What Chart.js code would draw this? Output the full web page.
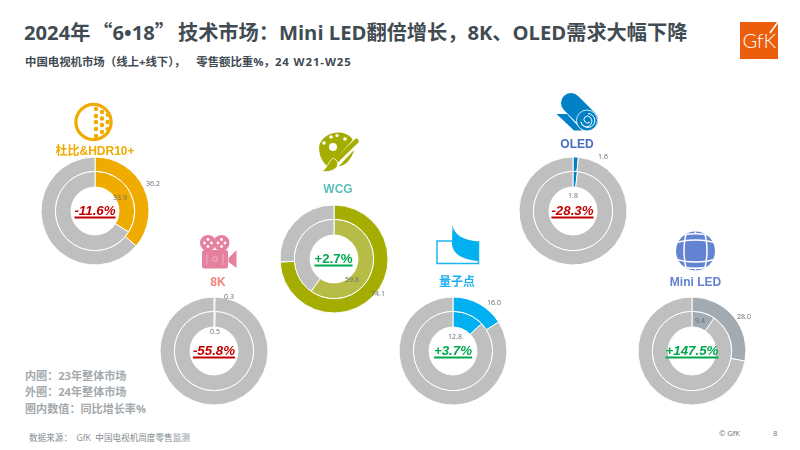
<!DOCTYPE html>
<html>
<head>
<meta charset="utf-8">
<script src="https://cdn.jsdelivr.net/npm/chart.js@4/dist/chart.umd.js"></script>
<style>
  html, body { margin: 0; padding: 0; background: #fff; }
  #page { position: relative; width: 800px; height: 450px; overflow: hidden; font-family: "Open Sans", "Noto Sans CJK SC", sans-serif; }
  #page div { position: absolute; white-space: pre; }
  #page canvas { position: absolute; }
  #icons { position: absolute; left: 0; top: 0; }
  .cjk { font-family: "Noto Sans CJK SC", sans-serif; }
  .title { left: 24px; top: 17px; font-size: 20.2px; font-weight: 700; color: #414b52; line-height: 30px; }
  .sub { left: 25px; top: 53px; font-size: 11.4px; font-weight: 700; color: #414b52; line-height: 18px; }
  .note { left: 25px; font-size: 11.1px; font-weight: 700; color: #a3a9ad; line-height: 16px; }
  .src { left: 29px; top: 431px; font-size: 8.6px; color: #868c91; line-height: 14px; }
  .foot { top: 427px; font-size: 7.6px; color: #6b6f72; line-height: 12px; }
  .name { font-family: "Liberation Sans", "Noto Sans CJK SC", sans-serif; font-size: 12px; font-weight: 700; transform: translate(-50%, -50%); line-height: 14px; }
  .growth { font-family: "Liberation Sans", sans-serif; font-size: 13.3px; font-weight: 700; font-style: italic; transform: translate(-50%, -50%); line-height: 15px; text-decoration: underline; text-decoration-thickness: 1.5px; text-underline-offset: 2px; }
</style>
</head>
<body>
<div id="page">
  <div class="title">2024年<span class="cjk" style="margin-left:2px">“</span>6•18<span class="cjk" style="margin-right:3px">”</span>技术市场：Mini LED翻倍增长，8K、OLED需求大幅下降</div>
  <div class="sub">中国电视机市场（线上+线下）<span style="letter-spacing:8px">，</span> 零售额比重%，<span style="letter-spacing:.9px">24 W21-W25</span></div>
  <div class="note" style="top:368px">内圈：23年整体市场</div>
  <div class="note" style="top:384px">外圈：24年整体市场</div>
  <div class="note" style="top:401px">圈内数值：同比增长率%</div>
  <div class="src">数据来源：  GfK  中国电视机周度零售监测</div>
  <div class="foot" style="left:719px">© GfK</div>
  <div class="foot" style="left:773px">8</div>

  <svg id="icons" width="800" height="450" viewBox="0 0 800 450">
    <!-- GfK logo -->
    <rect x="740" y="22" width="38" height="37" fill="#ec5d0c"/>
    <path d="M778 22 L770 33" stroke="#fff" stroke-width="1.6"/>
    <text x="742.5" y="48" font-family="Lato, sans-serif" font-weight="300" font-size="20" fill="#fff">GfK</text>

    <!-- Dolby -->
    <g fill="#f0ab00">
      <circle cx="93.5" cy="122" r="17.6" fill="none" stroke="#f0ab00" stroke-width="3.2"/>
      <circle cx="96" cy="109" r="2.2"/><circle cx="96" cy="116" r="2.3"/><circle cx="96" cy="122" r="2.3"/><circle cx="96" cy="129" r="2.3"/><circle cx="96" cy="136" r="2.2"/>
      <circle cx="102" cy="112" r="2.2"/><circle cx="102" cy="118.5" r="2.3"/><circle cx="102" cy="125" r="2.3"/><circle cx="102" cy="132" r="2.2"/>
      <circle cx="107.5" cy="115" r="2"/><circle cx="107.5" cy="122" r="2.2"/><circle cx="107.5" cy="129" r="2"/>
    </g>

    <!-- WCG palette -->
    <path d="M319 147 C321 136 333 131 343 133 C351 135 354 140 353 144 L337 159 C335 163 333 165 332 171 C326 165 319 160 319 147 Z" fill="#a5ad00"/>
    <path d="M341 166 C347 164 352 158 354 150 L339 166 Z" fill="#a5ad00"/>
    <circle cx="333" cy="147" r="4" fill="#fff"/><circle cx="331" cy="137" r="1.8" fill="#fff"/><circle cx="337" cy="135.5" r="1.6" fill="#fff"/><circle cx="345" cy="139" r="1.8" fill="#fff"/><circle cx="324" cy="143" r="1.8" fill="#fff"/>
    <path d="M356.5 141 L340 159" stroke="#fff" stroke-width="7"/>
    <path d="M356.5 141 L337 160" stroke="#a5ad00" stroke-width="4.6" stroke-linecap="round"/>
    <path d="M333 158 C338 160 339 165 336 168 C331 172 326 172 322 171 C327 169 328 162 333 158 Z" fill="#a5ad00" stroke="#fff" stroke-width="0.8"/>

    <!-- 8K camera -->
    <g fill="#e5819e">
      <circle cx="208" cy="243" r="8"/><circle cx="221.5" cy="243" r="8"/>
      <rect x="202" y="250" width="26" height="18.5" rx="2.5"/>
      <path d="M228.5 258 L236.5 250 L236.5 268 L228.5 262 Z"/>
    </g>
    <g fill="#fff">
      <circle cx="208" cy="239.5" r="1.4"/><circle cx="208" cy="246.5" r="1.4"/><circle cx="204.5" cy="243" r="1.4"/><circle cx="211.5" cy="243" r="1.4"/>
      <circle cx="221.5" cy="239.5" r="1.4"/><circle cx="221.5" cy="246.5" r="1.4"/><circle cx="218" cy="243" r="1.4"/><circle cx="225" cy="243" r="1.4"/>
    </g>
    <path d="M207 254 V265 M223 254 V265" stroke="#f3bccb" stroke-width="0.8"/>
    <path d="M213 257 h4 v4 h-4 z" fill="none" stroke="#f3bccb" stroke-width="0.8"/>

    <!-- OLED roll -->
    <path d="M556.5 114 L567 114 L582 130.5 L574 130.5 Z" fill="#0081c6"/>
    <path d="M571 103 L588 120" stroke="#0081c6" stroke-width="20" stroke-linecap="round"/>
    <circle cx="587" cy="120.5" r="10.5" fill="#0081c6" stroke="#fff" stroke-width="0.8"/>
    <path d="M588 113.5 A7 7 0 1 1 581 122 A5.5 5.5 0 1 0 590 117 A3.5 3.5 0 1 0 590 122" fill="none" stroke="#fff" stroke-width="1"/>

    <!-- Quantum dot -->
    <path d="M452 241 H437 V263.5 H478.5 V241" fill="none" stroke="#1eb4f2" stroke-width="1.5"/>
    <path d="M452.5 225 C454 235 463 240 478.5 241.5 V261 C463 260 452 254 452 243 Z" fill="#00b0f0"/>

    <!-- Mini LED globe -->
    <clipPath id="globe"><circle cx="695.5" cy="251" r="19.5"/></clipPath>
    <g clip-path="url(#globe)">
      <rect x="675" y="231" width="41" height="41" fill="#6482d2"/>
      <g fill="none" stroke="#fff" stroke-width="1.5">
        <path d="M687 231 C683 243 683 259 687 271"/>
        <path d="M704 231 C708 243 708 259 704 271"/>
        <path d="M695.5 231 V233"/><path d="M695.5 269 V272"/>
        <path d="M676 243 C685 239 706 239 715 243"/>
        <path d="M676 259 C685 263 706 263 715 259"/>
        <path d="M680 236 C688 233 703 233 711 236"/>
        <path d="M680 266 C688 269 703 269 711 266"/>
        <path d="M679 233 C674 243 674 259 679 269"/>
        <path d="M712 233 C717 243 717 259 712 269"/>
      </g>
    </g>
  </svg>
</div>

<script>
// 技术名称
const names = ['杜比&HDR10+', 'WCG', '8K', 'OLED', '量子点', 'Mini LED']
// 外圈：24年
const share24 = [36.2, 74.1, 0.3, 1.6, 16.0, 28.0]
const other24 = [63.8, 25.9, 99.7, 98.4, 84.0, 72.0]
// 内圈：23年
const share23 = [33.9, 59.8, 0.5, 1.8, 12.8, 9.4]
const other23 = [66.1, 40.2, 99.5, 98.2, 87.2, 90.6]
// 同比增长率
const growth = ['-11.6%', '+2.7%', '-55.8%', '-28.3%', '+3.7%', '+147.5%']

// colours + positions for each donut
const colors24 = ['#f0ab00', '#a5ad00', '#e5819e', '#0081c6', '#00b0f0', '#a3abb2']
const colors23 = ['#f0ab00', '#b6bc45', '#e5819e', '#0081c6', '#00b0f0', '#a3abb2']
const nameColors = ['#f0ab00', '#5bbfba', '#f0847c', '#4a6bc0', '#1eaeef', '#6482d2']
const growthColors = ['#c00000', '#00a94f', '#c00000', '#c00000', '#00a94f', '#00a94f']
const layouts = [
  { cx: 95, cy: 211, nameX: 95, nameY: 151, outer: [58, -27], inner: [25, -13] },
  { cx: 333.5, cy: 258.5, nameX: 338, nameY: 189, outer: [44, 35], inner: [18, 21] },
  { cx: 214, cy: 351, nameX: 218, nameY: 282, outer: [15, -54], inner: [1, -19] },
  { cx: 572.5, cy: 211, nameX: 577, nameY: 144, outer: [30, -54], inner: [0, -15] },
  { cx: 453, cy: 351, nameX: 457, nameY: 282, outer: [41, -48], inner: [2, -14] },
  { cx: 692, cy: 351, nameX: 695.5, nameY: 282, outer: [52, -34], inner: [8, -30] },
]
const SIZE = 150
const GREY = '#bfbfbf'
const page = document.getElementById('page')

// small value labels, text comes from the dataset
const valueLabels = {
  id: 'valueLabels',
  afterDraw(chart, args, opts) {
    const ctx = chart.ctx
    ctx.save()
    ctx.font = '7px "Open Sans", sans-serif'
    ctx.fillStyle = '#666a6d'
    ctx.textAlign = 'center'
    ctx.textBaseline = 'middle'
    chart.data.datasets.forEach((ds, i) => {
      const off = opts.offsets[i]
      ctx.fillText(ds.data[0].toFixed(1), SIZE / 2 + off[0], SIZE / 2 + off[1])
    })
    ctx.restore()
  },
}

names.forEach((name, i) => {
  const l = layouts[i]
  const canvas = document.createElement('canvas')
  canvas.width = SIZE
  canvas.height = SIZE
  canvas.style.left = (l.cx - SIZE / 2) + 'px'
  canvas.style.top = (l.cy - SIZE / 2) + 'px'
  canvas.style.width = SIZE + 'px'
  canvas.style.height = SIZE + 'px'
  page.appendChild(canvas)

  new Chart(canvas, {
    type: 'doughnut',
    data: {
      labels: [name, '其他'],
      datasets: [
        { label: '24年', data: [share24[i], other24[i]], backgroundColor: [colors24[i], GREY], borderColor: '#fff', borderWidth: 1, weight: 1 },
        { label: '23年', data: [share23[i], other23[i]], backgroundColor: [colors23[i], GREY], borderColor: '#fff', borderWidth: 1, weight: 1.1 },
      ],
    },
    options: {
      responsive: false,
      animation: false,
      cutout: '44.4%',
      layout: { padding: 20.5 },
      plugins: {
        legend: { display: false },
        tooltip: { enabled: false },
        valueLabels: { offsets: [l.outer, l.inner] },
      },
    },
    plugins: [valueLabels],
  })

  const title = document.createElement('div')
  title.className = 'name'
  title.textContent = name
  title.style.left = l.nameX + 'px'
  title.style.top = l.nameY + 'px'
  title.style.color = nameColors[i]
  page.appendChild(title)

  const g = document.createElement('div')
  g.className = 'growth'
  g.textContent = growth[i]
  g.style.left = l.cx + 'px'
  g.style.top = (l.cy - 1) + 'px'
  g.style.color = growthColors[i]
  if (i === 1) g.style.fontStyle = 'normal'
  page.appendChild(g)
})
</script>
</body>
</html>
